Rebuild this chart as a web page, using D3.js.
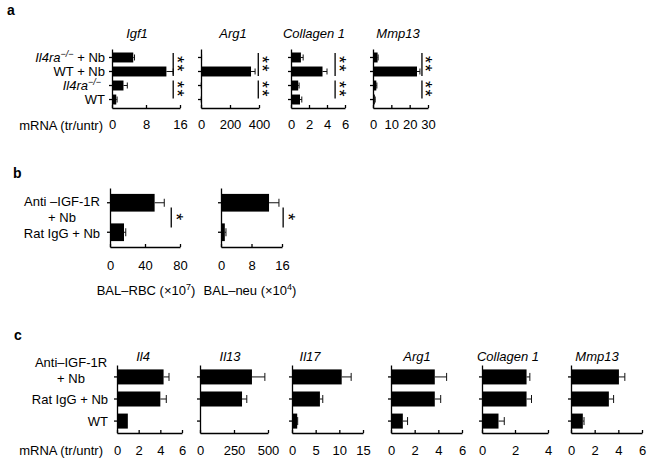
<!DOCTYPE html>
<html>
<head>
<meta charset="utf-8">
<script src="https://cdn.jsdelivr.net/npm/d3@7"></script>
<style>
  body { margin: 0; background: #fff; }
  text { font-family: "Liberation Sans", Arial, sans-serif; fill: #000; }
</style>
</head>
<body>
<script>
// panel a: Il4ra-/- vs WT, +/- Nb
const groupsA = ["Il4ra+Nb", "WT+Nb", "Il4ra", "WT"];
const genesA = ["Igf1", "Arg1", "Collagen 1", "Mmp13"];
const domainsA = [[0, 16], [0, 400], [0, 6], [0, 30]];
const ticksA = [[0, 8, 16], [0, 200, 400], [0, 2, 4, 6], [0, 10, 20, 30]];
const meansA = [[5, 12.8, 2.7, 1], [3, 345, 1, 1], [1.1, 3.5, 0.8, 1], [2.5, 24, 1.8, 1]];
const errsA = [[0.3, 1.6, 0.9, 0.2], [1, 28, 0.5, 0.5], [0.25, 0.5, 0.1, 0.2], [0.3, 1.6, 0.3, 0.2]];
const sigA = [14.4, 395, 4.9, 26.7]; // x position of significance bars, in axis units

// panel b: anti-IGF-1R
const groupsB = ["Anti", "Rat"];
const measuresB = [["BAL–RBC (×10", "7", ")"], ["BAL–neu (×10", "4", ")"]];
const domainsB = [[0, 80], [0, 16]];
const ticksB = [[0, 40, 80], [0, 8, 16]];
const meansB = [[51, 16], [12.6, 1.0]];
const errsB = [[11, 2], [2.6, 0.3]];
const sigB = [70, 16.3];

// panel c
const groupsC = ["Anti", "Rat", "WT"];
const genesC = ["Il4", "Il13", "Il17", "Arg1", "Collagen 1", "Mmp13"];
const domainsC = [[0, 6], [0, 500], [0, 15], [0, 6], [0, 4], [0, 6]];
const ticksC = [[0, 2, 4, 6], [0, 250, 500], [0, 5, 10, 15], [0, 2, 4, 6], [0, 2, 4], [0, 2, 4, 6]];
const meansC = [[4.3, 4.0, 1.0], [382, 309, 1], [10.5, 5.9, 1.1], [3.7, 3.7, 1.0], [2.7, 2.7, 1.0], [4.05, 3.2, 1.0]];
const errsC = [[0.5, 0.55, 0], [95, 35, 0], [2, 0.6, 0.1], [1.0, 0.5, 0.4], [0.2, 0.3, 0.35], [0.5, 0.4, 0.1]];

const W = 651, H = 461;
const svg = d3.select("body").append("svg").attr("width", W).attr("height", H);

function chart(o) {
  const x = d3.scaleLinear().domain(o.domain).range(o.xr);
  const y = d3.scaleBand().domain(o.groups).range(o.yr).paddingInner(o.pi).paddingOuter(o.po);
  const g = svg.append("g");

  g.selectAll("rect.bar")
    .data(o.groups)
    .join("rect")
    .attr("x", x(0))
    .attr("y", (d) => y(d))
    .attr("width", (d, i) => x(o.means[i]) - x(0))
    .attr("height", y.bandwidth())
    .attr("fill", "#000");

  const eb = g.append("g").attr("stroke", "#111").attr("stroke-width", 1);
  o.groups.forEach((d, i) => {
    if (!o.errs[i]) return;
    const cy = y(d) + y.bandwidth() / 2;
    const xe = x(o.means[i] + o.errs[i]);
    eb.append("line").attr("x1", x(o.means[i])).attr("x2", xe).attr("y1", cy).attr("y2", cy);
    eb.append("line").attr("x1", xe).attr("x2", xe).attr("y1", cy - o.cap).attr("y2", cy + o.cap);
  });

  g.append("g")
    .attr("transform", `translate(0,${o.yr[1]})`)
    .call(d3.axisBottom(x).tickValues(o.ticks).tickFormat(d3.format("~g"))
      .tickSizeInner(-3).tickSizeOuter(0).tickPadding(o.tp))
    .call((a) => a.selectAll("path,line").attr("stroke", "#000").attr("stroke-width", 1.3))
    .call((a) => a.selectAll("text").attr("font-size", 13).attr("font-family", "Liberation Sans, Arial, sans-serif"));

  g.append("g")
    .attr("transform", `translate(${o.xr[0]},0)`)
    .call(d3.axisLeft(y).tickSizeInner(3).tickSizeOuter(0).tickFormat(""))
    .call((a) => a.selectAll("path,line").attr("stroke", "#000").attr("stroke-width", 1.3));

  return { x, y };
}

// significance stars: a run of "*" turned on its side so they stack vertically
function stars(x, yc, n, fs) {
  svg.append("text")
    .attr("transform", `translate(${x},${yc}) rotate(90)`)
    .attr("y", fs * 0.58 - fs * 0.0)
    .attr("dx", 0)
    .attr("font-size", fs)
    .attr("letter-spacing", 1.5)
    .attr("text-anchor", "middle")
    .text("*".repeat(n));
}

function sigBar(xp, yc, half) {
  svg.append("line").attr("x1", xp).attr("x2", xp).attr("y1", yc - half).attr("y2", yc + half)
    .attr("stroke", "#000").attr("stroke-width", 1.3);
}

// ---------- panel a ----------
svg.append("text").attr("x", 7).attr("y", 15).attr("font-size", 14).attr("font-weight", "bold").text("a");

const xrA = [[112, 180], [201, 259], [291, 345], [373, 428]];
const titleXA = [137, 233, 314, 398];
let yA;
genesA.forEach((gene, j) => {
  const s = chart({
    groups: groupsA, domain: domainsA[j], ticks: ticksA[j], means: meansA[j], errs: errsA[j],
    xr: xrA[j], yr: [49, 108], pi: 0.29, po: 0.25, cap: 3, tp: 12
  });
  yA = s.y;
  svg.append("text").attr("x", titleXA[j]).attr("y", 38).attr("font-size", 13)
    .attr("font-style", "italic").attr("text-anchor", "middle").text(gene);
  const xs = s.x(sigA[j]);
  const c = (i) => s.y(groupsA[i]) + s.y.bandwidth() / 2;
  const m1 = (c(0) + c(1)) / 2, m2 = (c(2) + c(3)) / 2 - 3;
  sigBar(xs, m1, 11.5);
  sigBar(xs, m2, 9);
  stars(xs + 8, m1, 2, 18);
  stars(xs + 8, m2, 2, 18);
});

function il4ra(t) {
  t.append("tspan").attr("font-style", "italic").text("Il4ra");
  t.append("tspan").attr("font-style", "italic").attr("font-size", 9).attr("dy", -5).text("−/−");
}
const rowLabA = svg.append("g").attr("font-size", 13).attr("text-anchor", "end");
groupsA.forEach((gname) => {
  const cy = yA(gname) + yA.bandwidth() / 2 + 4.5;
  if (gname === "Il4ra+Nb") {
    const t = rowLabA.append("text").attr("x", 105).attr("y", cy);
    il4ra(t);
    t.append("tspan").attr("dy", 5).text(" + Nb");
  } else if (gname === "Il4ra") {
    const t = rowLabA.append("text").attr("x", 101).attr("y", cy);
    il4ra(t);
  } else {
    rowLabA.append("text").attr("x", 105).attr("y", cy).text(gname === "WT+Nb" ? "WT + Nb" : "WT");
  }
});
svg.append("text").attr("x", 103).attr("y", 130).attr("font-size", 13).attr("text-anchor", "end").text("mRNA (tr/untr)");

// ---------- panel b ----------
svg.append("text").attr("x", 13).attr("y", 178).attr("font-size", 14).attr("font-weight", "bold").text("b");

const xrB = [[110, 180], [221, 282]];
const labelXB = [146, 250];
measuresB.forEach((m, j) => {
  const s = chart({
    groups: groupsB, domain: domainsB[j], ticks: ticksB[j], means: meansB[j], errs: errsB[j],
    xr: xrB[j], yr: [188, 247], pi: 0.4, po: 0.2, cap: 4, tp: 14
  });
  const mid = (s.y("Anti") + s.y("Rat") + s.y.bandwidth()) / 2;
  const xs = s.x(sigB[j]);
  sigBar(xs, mid, 10);
  stars(xs + 9, mid, 1, 18);
  const t = svg.append("text").attr("x", labelXB[j]).attr("y", 295).attr("font-size", 13).attr("text-anchor", "middle");
  t.append("tspan").text(m[0]);
  t.append("tspan").attr("font-size", 9).attr("dy", -5).text(m[1]);
  t.append("tspan").attr("dy", 5).text(m[2]);
});
svg.append("text").attr("x", 62).attr("y", 206).attr("font-size", 13).attr("text-anchor", "middle").text("Anti –IGF-1R");
svg.append("text").attr("x", 62).attr("y", 222).attr("font-size", 13).attr("text-anchor", "middle").text("+ Nb");
svg.append("text").attr("x", 100).attr("y", 238).attr("font-size", 13).attr("text-anchor", "end").text("Rat IgG + Nb");

// ---------- panel c ----------
svg.append("text").attr("x", 14).attr("y", 340).attr("font-size", 14).attr("font-weight", "bold").text("c");

const xrC = [[117, 182], [200, 268], [292, 363], [391, 462], [482, 548], [571, 642]];
const titleXC = [143, 230, 310, 417, 508, 597];
let yC;
genesC.forEach((gene, j) => {
  const s = chart({
    groups: groupsC, domain: domainsC[j], ticks: ticksC[j], means: meansC[j], errs: errsC[j],
    xr: xrC[j], yr: [365, 433], pi: 0.32, po: 0.2, cap: 4, tp: 13
  });
  yC = s.y;
  svg.append("text").attr("x", titleXC[j]).attr("y", 361).attr("font-size", 13)
    .attr("font-style", "italic").attr("text-anchor", "middle").text(gene);
});
svg.append("text").attr("x", 71).attr("y", 367).attr("font-size", 13).attr("text-anchor", "middle").text("Anti–IGF-1R");
svg.append("text").attr("x", 71).attr("y", 383).attr("font-size", 13).attr("text-anchor", "middle").text("+ Nb");
svg.append("text").attr("x", 108).attr("y", yC("Rat") + yC.bandwidth() / 2 + 5).attr("font-size", 13).attr("text-anchor", "end").text("Rat IgG + Nb");
svg.append("text").attr("x", 108).attr("y", yC("WT") + yC.bandwidth() / 2 + 5).attr("font-size", 13).attr("text-anchor", "end").text("WT");
svg.append("text").attr("x", 103).attr("y", 455).attr("font-size", 13).attr("text-anchor", "end").text("mRNA (tr/untr)");
</script>
</body>
</html>
